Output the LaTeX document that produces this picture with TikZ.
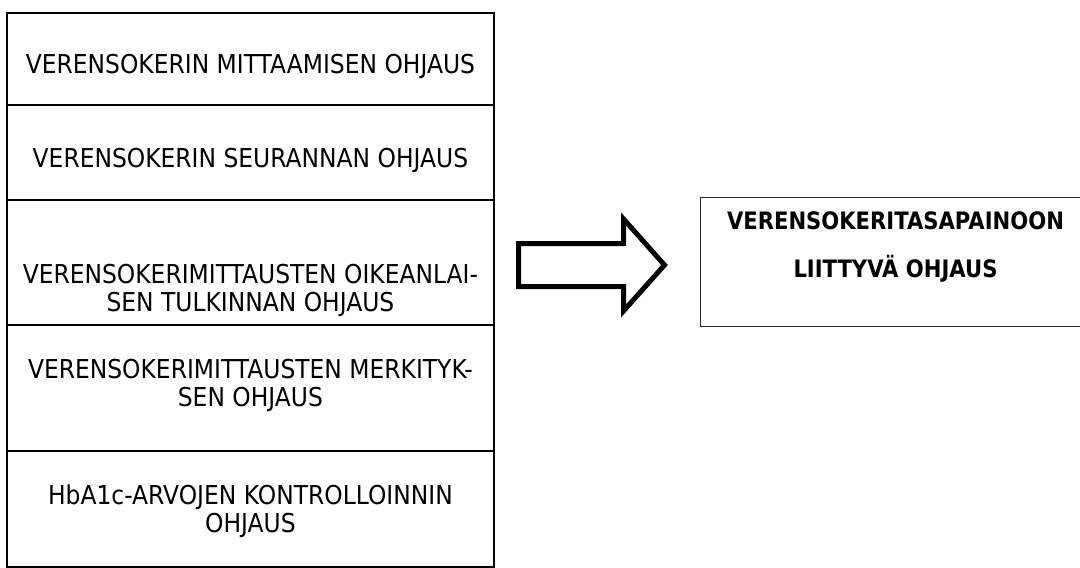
\documentclass[tikz,border=0pt]{standalone}
\usepackage{fontspec}
\setmainfont{DejaVu Sans}[FakeStretch=0.9]
\newfontfamily\headfont{DejaVu Sans}[FakeStretch=0.88]
\begin{document}
\begin{tikzpicture}[x=1pt,y=-1pt,
  listbox/.style={draw=black, line width=2pt, rectangle, minimum width=486.2pt, inner sep=0pt},
  listtext/.style={align=center, font=\fontsize{26}{28}\selectfont, inner sep=0pt},
  resultbox/.style={draw=black!85, line width=1pt, rectangle, minimum width=400pt, minimum height=129pt, inner sep=0pt},
  resulttext/.style={align=center, font=\headfont\bfseries\fontsize{24}{48}\selectfont, inner sep=0pt},
  blockarrow/.style={draw=black, line width=5pt, fill=white, line join=miter}]
\useasboundingbox (0,0) rectangle (1080,568);

% stacked list of guidance topics
\node[listbox, minimum height=92.6pt] (b1) at (250.4,59) {};
\node[listbox, minimum height=94.7pt] (b2) at (250.4,152.65) {};
\node[listbox, minimum height=125pt]  (b3) at (250.4,262.5) {};
\node[listbox, minimum height=126pt]  (b4) at (250.4,388) {};
\node[listbox, minimum height=115.5pt] (b5) at (250.4,508.75) {};

\node[listtext] (t1) at (250.4,66) {VERENSOKERIN MITTAAMISEN OHJAUS};
\node[listtext] (t2) at (250.4,160) {VERENSOKERIN SEURANNAN OHJAUS};
\node[listtext] (t3) at (250.4,290.5) {VERENSOKERIMITTAUSTEN OIKEANLAI-\\SEN TULKINNAN OHJAUS};
\node[listtext] (t4) at (250.4,385) {VERENSOKERIMITTAUSTEN MERKITYK-\\SEN OHJAUS};
\node[listtext] (t5) at (250.4,511) {HbA1c-ARVOJEN KONTROLLOINNIN\\OHJAUS};

% block arrow
\draw[blockarrow] (518.5,243.5) -- (623.5,243.5) -- (623.5,219) -- (664.5,265)
  -- (623.5,311) -- (623.5,286.5) -- (518.5,286.5) -- cycle;

% result box
\node[resultbox] (r) at (900,262.2) {};
\node[resulttext] (rt) at (895.5,247) {VERENSOKERITASAPAINOON\\LIITTYVÄ OHJAUS};
\end{tikzpicture}
\end{document}
